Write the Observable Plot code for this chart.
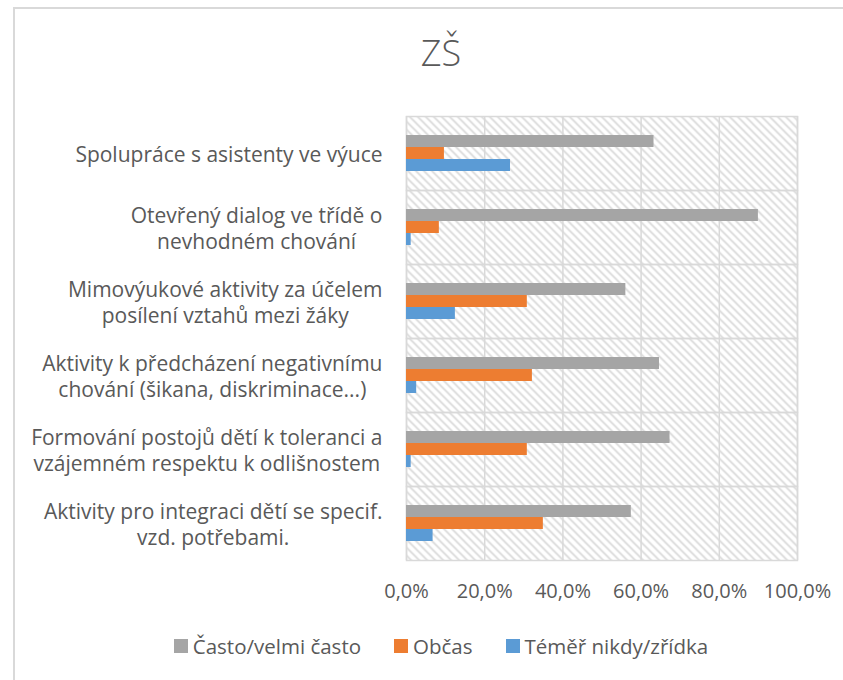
<!DOCTYPE html>
<html>
<head>
<meta charset="utf-8">
<script src="https://cdn.jsdelivr.net/npm/d3@7"></script>
<script src="https://cdn.jsdelivr.net/npm/@observablehq/plot@0.6"></script>
<style>
  html, body { margin: 0; padding: 0; background: #fff; }
  #chart { position: relative; width: 843px; height: 680px; overflow: hidden; font-family: "Open Sans", sans-serif; color: #595959; }
  #border { position: absolute; left: 13px; top: 7px; width: 900px; height: 800px; border: 2px solid #d9d9d9; box-sizing: border-box; }
  #title { position: absolute; left: 13px; width: 856px; top: 35px; text-align: center; font-size: 36px; line-height: 36px; font-weight: 300; color: #595959; }
  #plot { position: absolute; left: 0; top: 0; }
  #legend { position: absolute; left: 13px; width: 856px; top: 636px; display: flex; justify-content: center; align-items: center; font-size: 20.5px; line-height: 20px; color: #595959; }
  .item { display: flex; align-items: center; margin: 0 16.5px; }
  .sw { width: 14px; height: 14px; margin-right: 5px; }
</style>
</head>
<body>
<div id="chart">
  <div id="border"></div>
  <div id="title"></div>
  <div id="plot"></div>
  <div id="legend"></div>
</div>
<script>
const title = "ZŠ";
const categories = [
  "Spolupráce s asistenty ve výuce",
  "Otevřený dialog ve třídě o nevhodném chování",
  "Mimovýukové aktivity za účelem posílení vztahů mezi žáky",
  "Aktivity k předcházení negativnímu chování (šikana, diskriminace...)",
  "Formování postojů dětí k toleranci a vzájemném respektu k odlišnostem",
  "Aktivity pro integraci dětí se specif. vzd. potřebami."
];
const categoryLabels = [
  "Spolupráce s asistenty ve výuce",
  "Otevřený dialog ve třídě o\nnevhodném chování",
  "Mimovýukové aktivity za účelem\nposílení vztahů mezi žáky",
  "Aktivity k předcházení negativnímu\nchování (šikana, diskriminace...)",
  "Formování postojů dětí k toleranci a\nvzájemném respektu k odlišnostem",
  "Aktivity pro integraci dětí se specif.\nvzd. potřebami."
];
const series = ["Často/velmi často", "Občas", "Téměř nikdy/zřídka"];
const colors = ["#a5a5a5", "#ed7d31", "#5b9bd5"];
const often = [63.3, 90.0, 56.1, 64.7, 67.4, 57.5];
const sometimes = [9.7, 8.4, 30.9, 32.2, 30.9, 35.0];
const rarely = [26.6, 1.2, 12.5, 2.6, 1.2, 6.8];
const xTicks = [0, 20, 40, 60, 80, 100];

const seriesValues = [often, sometimes, rarely];
const data = [];
categories.forEach((c, i) => {
  series.forEach((s, j) => data.push({category: c, series: s, value: seriesValues[j][i]}));
});
const labelData = categories.map((c, i) => ({category: c, label: categoryLabels[i]}));

document.getElementById("title").textContent = title;

const plot = Plot.plot({
  width: 843,
  height: 612,
  marginTop: 113,
  marginBottom: 50,
  marginLeft: 406,
  marginRight: 46,
  style: {fontFamily: "Open Sans", fontSize: "20px", color: "#595959", background: "transparent", overflow: "visible"},
  x: {domain: [0, 100], ticks: xTicks, tickFormat: d => d.toFixed(1).replace(".", ",") + "%", tickSize: 0, tickPadding: 23, label: null},
  y: {domain: series, paddingInner: 0, paddingOuter: 1.377, axis: null},
  fy: {domain: categories, padding: 0, axis: null, label: null},
  color: {domain: series, range: colors},
  marks: [
    Plot.frame({fill: "url(#hatch)", stroke: null}),
    Plot.ruleX(xTicks, {stroke: "#d9d9d9", strokeWidth: 1.5}),
    Plot.frame({stroke: "#d9d9d9", strokeWidth: 1.5}),
    Plot.barX(data, {x: "value", y: "series", fy: "category", fill: "series"}),
    Plot.text(labelData, {fy: "category", text: "label", frameAnchor: "left", dx: -24, textAnchor: "end", lineAnchor: "middle", lineHeight: 1.22, fontSize: 21, fill: "#595959"})
  ]
});

const svg = d3.select(plot);
const defs = svg.insert("defs", ":first-child");
const pat = defs.append("pattern").attr("id", "hatch").attr("patternUnits", "userSpaceOnUse").attr("width", 8).attr("height", 8);
pat.append("rect").attr("width", 8).attr("height", 8).attr("fill", "#fff");
pat.append("path").attr("d", "M-2,-2L10,10M6,-2L10,2M-2,6L2,10").attr("stroke", "#d8d8d8").attr("stroke-width", 1.6);

document.getElementById("plot").appendChild(plot);

// center wrapped label lines on each other, keeping the block right-aligned
svg.selectAll('g[aria-label="text"] text').each(function() {
  const tspans = this.querySelectorAll("tspan");
  const lens = tspans.length ? Array.from(tspans, t => t.getComputedTextLength()) : [this.getComputedTextLength()];
  const m = Math.max(...lens);
  this.setAttribute("text-anchor", "middle");
  const tr = this.getAttribute("transform") || "";
  this.setAttribute("transform", tr + ` translate(${-m / 2},0)`);
});

const legend = d3.select("#legend");
series.forEach((s, i) => {
  const it = legend.append("div").attr("class", "item");
  it.append("div").attr("class", "sw").style("background", colors[i]);
  it.append("span").text(s);
});
</script>
</body>
</html>
